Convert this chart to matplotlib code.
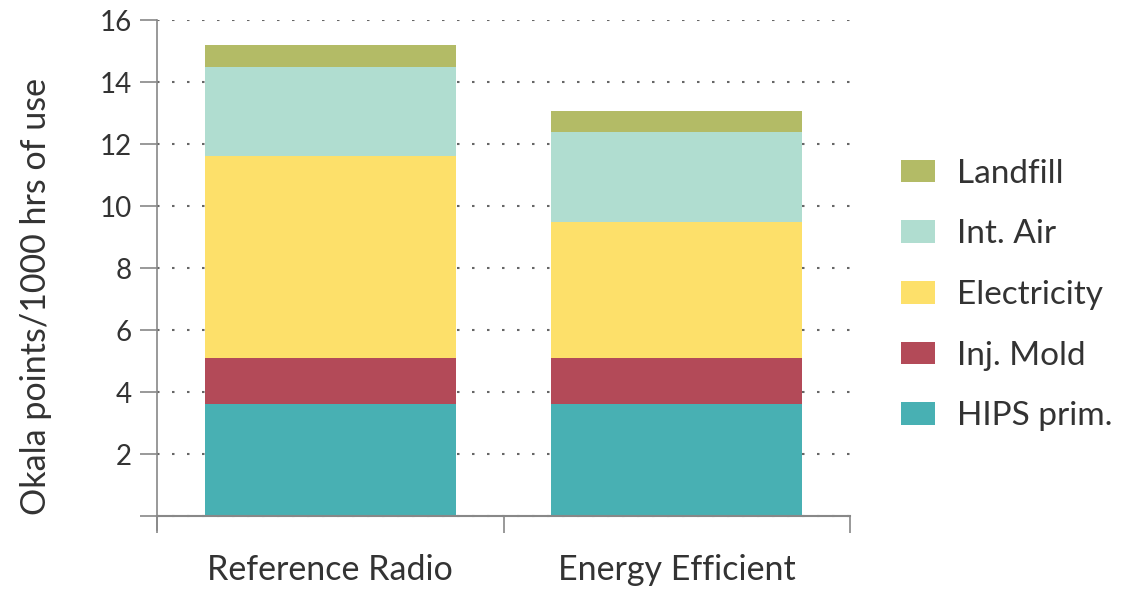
import matplotlib
matplotlib.use("Agg")
import matplotlib.pyplot as plt
import numpy as np

plt.rcParams["font.family"] = ["Lato", "DejaVu Sans"]

products = ["Reference Radio", "Energy Efficient"]
stages = ["HIPS prim.", "Inj. Mold", "Electricity", "Int. Air", "Landfill"]
hips_prim = [3.6, 3.6]
inj_mold = [1.5, 1.5]
electricity = [6.5, 4.38]
int_air = [2.9, 2.9]
landfill = [0.68, 0.68]
colors = ["#48b0b3", "#b34a58", "#fde06a", "#b0ddd0", "#b3bb66"]
y_ticks = [0, 2, 4, 6, 8, 10, 12, 14, 16]

fig = plt.figure(figsize=(11.32, 5.90), dpi=100)
ax = fig.add_axes([0.1387, 0.1017, 0.6122, 0.8644])

x = np.arange(len(products))
bottom = np.zeros(len(products))
handles = []
for label, values, color in zip(stages, [hips_prim, inj_mold, electricity, int_air, landfill], colors):
    h = ax.bar(x, values, width=0.725, bottom=bottom, color=color, label=label, zorder=2)
    handles.append(h)
    bottom += np.array(values)

ax.set_xlim(-0.5, 1.5)
ax.set_ylim(-0.45, 16)
ax.set_yticks(y_ticks)
ax.set_yticklabels(["" if v == 0 else str(v) for v in y_ticks])
ax.yaxis.grid(True, linestyle=(0, (1.2, 6)), color="#666666", linewidth=1.5, zorder=0)
ax.tick_params(axis="y", direction="out", length=12, width=1.2, color="#888888",
               labelsize=20, labelcolor="#333333", pad=6)

ax.set_xticks(x)
ax.set_xticklabels(products)
ax.set_xticks([-0.5, 0.5, 1.5], minor=True)
ax.tick_params(axis="x", which="major", length=0, pad=27, labelsize=24.5, labelcolor="#333333")
ax.tick_params(axis="x", which="minor", direction="out", length=12, width=1.2, color="#888888")

for side in ["top", "right"]:
    ax.spines[side].set_visible(False)
ax.spines["bottom"].set_position(("data", 0))
ax.spines["bottom"].set_color("#888888")
ax.spines["bottom"].set_linewidth(1.5)
ax.spines["left"].set_color("#888888")
ax.spines["left"].set_linewidth(1.2)

ax.set_ylabel("Okala points/1000 hrs of use", fontsize=24.5, color="#333333")
ax.yaxis.set_label_coords(-0.152, 0.457)

fig.legend(handles[::-1], stages[::-1], loc="center left", bbox_to_anchor=(0.769, 0.50),
           frameon=False, fontsize=24, handlelength=1.03, handleheight=0.67,
           labelspacing=0.92, handletextpad=0.65, labelcolor="#333333")

fig.savefig("out.png")
